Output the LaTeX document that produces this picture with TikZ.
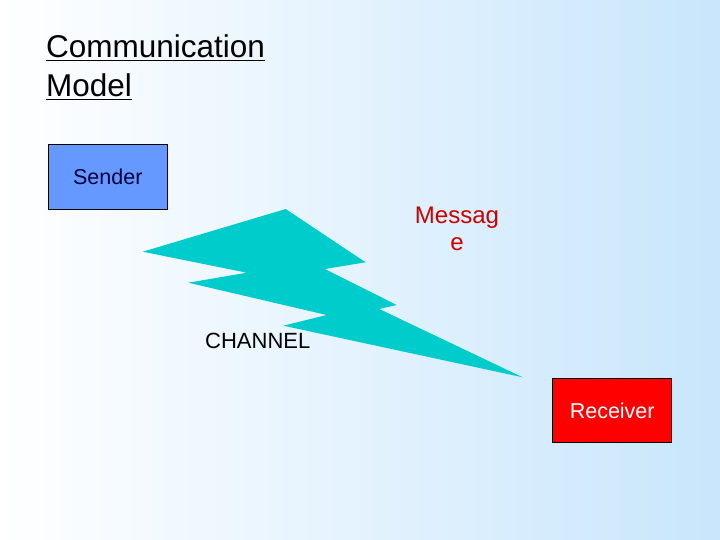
\documentclass[tikz,border=0pt]{standalone}
\usepackage{fontspec}
\setmainfont{Liberation Sans}
\definecolor{bgblue}{RGB}{200,230,252}
\definecolor{boltcyan}{RGB}{0,204,204}
\definecolor{senderblue}{RGB}{102,153,255}
\definecolor{msgred}{RGB}{204,0,0}
\begin{document}
\begin{tikzpicture}[x=1pt,y=-1pt,
  box/.style={draw=black,line width=0.8pt,minimum width=119pt,minimum height=64.5pt,inner sep=0pt,font=\fontsize{21.5}{25}\selectfont},
  lbl/.style={inner sep=0pt,align=center}]
\shade[left color=white,right color=bgblue] (0,0) rectangle (720,540);
\useasboundingbox (0,0) rectangle (720,540);
\node[lbl,anchor=base west,font=\fontsize{31.5}{36}\selectfont] (t1) at (46,58) {\underline{Communication}};
\node[lbl,anchor=base west,font=\fontsize{31.5}{36}\selectfont] (t2) at (46,97) {\underline{Model}};
\node[box,fill=senderblue,text={rgb,255:red,0;green,0;blue,60}] (sender) at (107.8,176.7) {Sender};
\node[box,fill=red,text=white] (receiver) at (612.2,410.5) {Receiver};
\fill[boltcyan] (142.7,251.7) coordinate (b1) -- (285.7,209) -- (365.7,262.3) -- (325,269) -- (396.7,305) -- (379.3,309) -- (522.7,377.3) -- (283.3,325.7) -- (326.7,315) -- (188.3,282.7) -- (246.7,272.7) -- cycle;
\node[lbl,anchor=base,text=msgred,font=\fontsize{24}{28}\selectfont] (msg) at (457,251) {Messag\\e};
\node[lbl,anchor=base west,font=\fontsize{22}{26}\selectfont] (chan) at (205,348) {CHANNEL};
\end{tikzpicture}
\end{document}
